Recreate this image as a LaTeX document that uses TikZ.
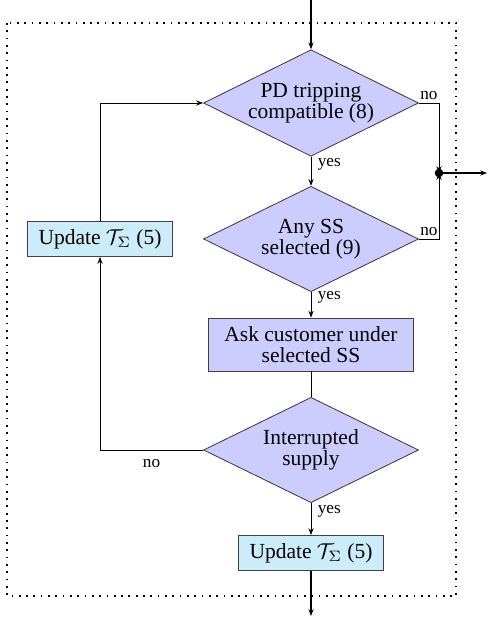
\documentclass[tikz,border=0pt]{standalone}
\usepackage{amsmath,amssymb}
\usepackage{fontspec}
\setmainfont{Liberation Serif}
\usetikzlibrary{arrows.meta, positioning, calc, shapes.geometric}
\definecolor{lavend}{HTML}{CCCCFF}
\definecolor{skyfill}{HTML}{CCECFA}
\definecolor{edgegray}{HTML}{404040}

\begin{document}
\begin{tikzpicture}[x=0.4651pt, y=-0.4651pt,
  >={Stealth[length=3.2pt, width=2.4pt]},
  test/.style={diamond, draw=edgegray, fill=lavend, aspect=2, inner sep=0.5pt,
    minimum width=100pt, minimum height=49pt, align=center,
    font=\fontsize{10}{10}\selectfont},
  proc/.style={rectangle, draw=edgegray, fill=lavend, minimum width=95pt,
    minimum height=24.6pt, align=center, font=\fontsize{10}{10}\selectfont},
  upd/.style={rectangle, draw=edgegray, fill=skyfill, minimum width=67.4pt,
    minimum height=16.3pt, font=\fontsize{10}{10}\selectfont},
  arr/.style={->, line width=0.4pt},
  bigarr/.style={->, line width=0.8pt},
  lbl/.style={font=\footnotesize, inner sep=1.5pt},
]
\useasboundingbox (0,0) rectangle (488,622);

% Frame
\draw[line width=0.8pt, dash pattern=on 0.8pt off 2.6pt] (7,23) rectangle (456,596);

% === Main column ===
\node[test] (trip) at (311,103) {PD tripping\\compatible (8)};
\node[test] (anyss) at (311,239) {Any SS\\selected (9)};
\node[proc] (ask) at (311,344.5) {Ask customer under\\selected SS};
\node[test] (interr) at (311,450) {Interrupted\\supply};
\node[upd] (updlow) at (311,553) {Update $\mathcal{T}_\Sigma$ (5)};

% Loop box
\node[upd] (updleft) at (100,239) {Update $\mathcal{T}_\Sigma$ (5)};

\coordinate (start) at (311,0);
\coordinate (junc) at (439,173);
\coordinate (exit) at (487,173);
\coordinate (finish) at (311,616);

\draw[bigarr] (start) -- (trip.north);
\draw[arr] (trip.south) -- (anyss.north) node[pos=0.25, right, lbl, inner sep=3pt] {yes};
\draw[arr] (anyss.south) -- (ask.north) node[pos=0.2, right, lbl, inner sep=3pt] {yes};
\draw (ask.south) -- (interr.north);
\draw[arr] (interr.south) -- (updlow.north) node[pos=0.25, right, lbl, inner sep=3pt] {yes};
\draw[bigarr] (updlow.south) -- (finish);

% === Exits to the right ===
\draw[arr] (trip.east) -| (junc) node[pos=0.25, above, lbl] {no};
\draw[arr] (anyss.east) -| (junc) node[pos=0.25, above, lbl] {no};
\fill (junc) circle (2pt);
\draw[bigarr] (junc) -- (exit);

% === Loop back ===
\draw[arr] (interr.west) -| (updleft.south) node[pos=0.25, below, lbl, inner sep=4pt] {no};
\draw[arr] (updleft.north) |- (trip.west);

\end{tikzpicture}
\end{document}
